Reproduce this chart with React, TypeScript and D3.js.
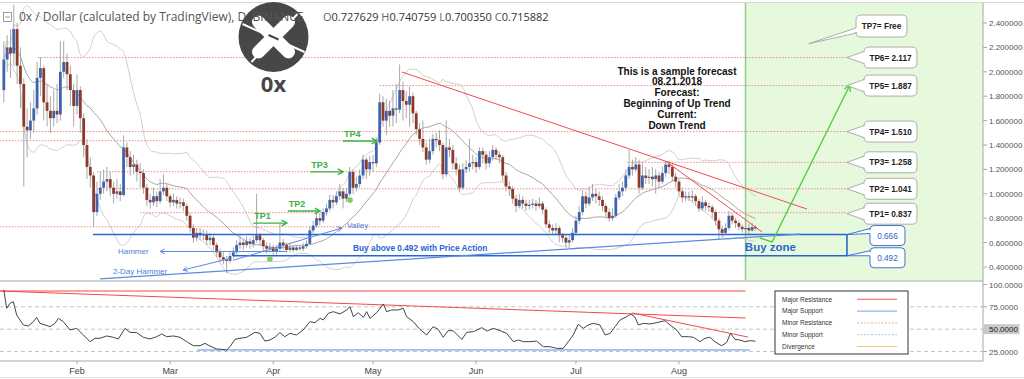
import React from "react";
import * as d3 from "d3";

// ---------------- DATA ----------------
const startDate = new Date(2018, 0, 10);
const firstOpen = 1.85;
const closes = [
  2.10, 2.20, 2.15, 2.35, 2.05, 1.90, 1.55, 1.52, 1.60, 1.70,
  1.95, 2.03, 1.75, 1.68, 1.62, 1.68, 1.65, 2.00, 2.08, 1.98,
  1.85, 1.72, 1.85, 1.62, 1.40, 1.22, 1.15, 0.85, 1.00, 1.05,
  1.10, 1.12, 1.05, 1.00, 1.02, 0.99, 1.38, 1.30, 1.22, 1.24,
  1.18, 1.17, 1.05, 0.95, 0.93, 0.98, 0.94, 1.02, 1.05, 0.98,
  0.93, 0.95, 0.92, 0.93, 0.90, 0.82, 0.72, 0.64, 0.68, 0.66,
  0.67, 0.62, 0.64, 0.58, 0.52, 0.48, 0.46, 0.45, 0.49, 0.52,
  0.58, 0.60, 0.58, 0.61, 0.59, 0.62, 0.66, 0.62, 0.57, 0.55,
  0.56, 0.53, 0.55, 0.60, 0.58, 0.54, 0.56, 0.54, 0.56, 0.55,
  0.57, 0.59, 0.70, 0.74, 0.80, 0.78, 0.85, 0.88, 0.95, 0.93,
  0.98, 1.02, 0.96, 1.00, 1.18, 1.05, 1.08, 1.15, 1.28, 1.20,
  1.26, 1.25, 1.42, 1.75, 1.60, 1.68, 1.64, 1.70, 1.69, 1.85,
  1.76, 1.73, 1.80, 1.66, 1.53, 1.45, 1.38, 1.28, 1.35, 1.45,
  1.44, 1.40, 1.16, 1.38, 1.36, 1.25, 1.20, 1.05, 1.20, 1.22,
  1.25, 1.26, 1.22, 1.35, 1.32, 1.25, 1.30, 1.36, 1.32, 1.30,
  1.15, 1.06, 1.04, 0.96, 0.90, 0.95, 0.92, 0.90, 0.91, 0.92,
  0.90, 0.92, 0.87, 0.75, 0.72, 0.70, 0.72, 0.66, 0.64, 0.60,
  0.62, 0.68, 0.78, 0.85, 0.98, 0.92, 0.97, 1.00, 0.98, 0.95,
  0.90, 0.85, 0.80, 0.82, 0.97, 1.02, 1.05, 1.15, 1.22, 1.20,
  1.24, 1.05, 1.15, 1.13, 1.14, 1.12, 1.15, 1.10, 1.17, 1.24,
  1.22, 1.14, 1.10, 1.02, 0.97, 0.98, 0.97, 0.98, 0.94, 0.88,
  0.93, 0.90, 0.89, 0.85, 0.78, 0.71, 0.68, 0.72, 0.82, 0.78,
  0.76, 0.73, 0.71, 0.72, 0.70, 0.7276, 0.7159,
];
const highs = [
  2.25, 2.30, 2.35, 2.55, 2.40, 2.20, 1.95, 1.70, 1.75, 1.85,
  2.08, 2.12, 2.05, 1.90, 1.80, 1.85, 1.90, 2.25, 2.25, 2.15,
  2.05, 1.90, 1.98, 1.88, 1.66, 1.45, 1.30, 1.18, 1.10, 1.18,
  1.20, 1.22, 1.18, 1.10, 1.12, 1.08, 1.48, 1.42, 1.35, 1.32,
  1.28, 1.25, 1.20, 1.08, 1.00, 1.05, 1.02, 1.12, 1.16, 1.08,
  1.00, 1.00, 0.98, 0.97, 0.96, 0.92, 0.84, 0.75, 0.72, 0.72,
  0.71, 0.70, 0.68, 0.66, 0.60, 0.55, 0.52, 0.49, 0.52, 0.56,
  0.62, 0.66, 0.63, 0.65, 0.64, 0.66, 1.00, 0.68, 0.64, 0.60,
  0.60, 0.58, 0.58, 0.76, 0.63, 0.60, 0.59, 0.58, 0.58, 0.58,
  0.60, 0.62, 0.73, 0.78, 0.84, 0.84, 0.88, 0.92, 0.99, 0.99,
  1.02, 1.08, 1.05, 1.05, 1.22, 1.20, 1.14, 1.20, 1.32, 1.30,
  1.31, 1.32, 1.46, 1.82, 1.80, 1.78, 1.76, 1.85, 1.90, 2.06,
  1.92, 1.84, 1.88, 1.83, 1.68, 1.58, 1.60, 1.42, 1.45, 1.49,
  1.50, 1.52, 1.42, 1.60, 1.45, 1.40, 1.30, 1.24, 1.25, 1.28,
  1.45, 1.32, 1.30, 1.38, 1.38, 1.35, 1.35, 1.40, 1.38, 1.35,
  1.32, 1.18, 1.10, 1.06, 0.99, 1.00, 0.98, 0.95, 0.95, 0.96,
  0.95, 0.97, 0.94, 0.89, 0.78, 0.75, 0.76, 0.74, 0.68, 0.66,
  0.66, 0.72, 0.82, 0.90, 1.03, 1.02, 1.06, 1.08, 1.04, 1.02,
  0.98, 0.92, 0.88, 0.88, 1.00, 1.08, 1.10, 1.20, 1.36, 1.28,
  1.30, 1.28, 1.25, 1.22, 1.20, 1.22, 1.20, 1.18, 1.22, 1.27,
  1.27, 1.24, 1.17, 1.12, 1.05, 1.02, 1.02, 1.03, 1.00, 0.96,
  0.98, 0.95, 0.93, 0.91, 0.87, 0.80, 0.74, 0.76, 0.86, 0.84,
  0.80, 0.78, 0.75, 0.76, 0.75, 0.76, 0.7408,
];
const lows = [
  1.75, 2.00, 1.95, 2.05, 1.90, 1.70, 1.06, 1.30, 1.45, 1.50,
  1.65, 1.80, 1.60, 1.55, 1.50, 1.55, 1.58, 1.60, 1.95, 1.85,
  1.72, 1.55, 1.65, 1.50, 1.30, 1.12, 1.05, 0.73, 0.82, 0.95,
  1.00, 1.02, 0.98, 0.92, 0.96, 0.94, 0.98, 1.22, 1.15, 1.16,
  1.10, 1.05, 1.00, 0.90, 0.88, 0.90, 0.89, 0.92, 0.99, 0.94,
  0.89, 0.90, 0.88, 0.88, 0.86, 0.78, 0.68, 0.60, 0.61, 0.62,
  0.62, 0.58, 0.58, 0.54, 0.48, 0.44, 0.42, 0.35, 0.43, 0.47,
  0.50, 0.55, 0.54, 0.56, 0.55, 0.56, 0.60, 0.58, 0.53, 0.51,
  0.52, 0.50, 0.50, 0.53, 0.54, 0.52, 0.52, 0.52, 0.53, 0.53,
  0.53, 0.55, 0.58, 0.68, 0.72, 0.74, 0.76, 0.82, 0.86, 0.88,
  0.91, 0.95, 0.88, 0.93, 0.98, 1.00, 1.02, 1.05, 1.12, 1.12,
  1.15, 1.18, 1.22, 1.40, 1.55, 1.48, 1.55, 1.55, 1.58, 1.66,
  1.60, 1.62, 1.55, 1.58, 1.48, 1.40, 1.34, 1.24, 1.25, 1.32,
  1.38, 1.35, 1.12, 1.14, 1.30, 1.20, 1.15, 1.02, 1.03, 1.17,
  1.18, 1.20, 1.17, 1.20, 1.25, 1.20, 1.22, 1.27, 1.28, 1.25,
  1.10, 1.02, 0.98, 0.92, 0.85, 0.88, 0.88, 0.86, 0.87, 0.88,
  0.86, 0.88, 0.83, 0.72, 0.68, 0.66, 0.66, 0.60, 0.60, 0.56,
  0.56, 0.60, 0.66, 0.75, 0.83, 0.88, 0.90, 0.94, 0.92, 0.90,
  0.86, 0.80, 0.77, 0.78, 0.80, 0.95, 0.98, 1.02, 1.12, 1.15,
  1.18, 1.00, 1.03, 1.08, 1.08, 1.06, 1.00, 1.05, 1.08, 1.14,
  1.16, 1.10, 1.05, 0.98, 0.93, 0.94, 0.94, 0.93, 0.90, 0.85,
  0.86, 0.86, 0.85, 0.80, 0.74, 0.62, 0.64, 0.66, 0.70, 0.75,
  0.72, 0.70, 0.68, 0.68, 0.67, 0.69, 0.7004,
];

// RSI: day index and value
const rsiDays = [
  0, 0.85, 1.85, 2.86, 3.86, 5.86, 7.37, 8.87, 9.87, 10.87,
  12.38, 13.88, 15.38, 16.39, 17.89, 19.89, 21.9, 23.9, 25.91, 27.41,
  28.91, 30.92, 32.92, 34.43, 36.43, 37.93, 39.94, 41.94, 43.95, 45.95,
  47.45, 48.96, 50.96, 52.97, 54.97, 56.98, 58.98, 60.48, 61.99, 63.99,
  65.49, 67.0, 68.0, 69.5, 71.0, 73.0, 75.5, 77.0, 78.5, 80.0,
  81.5, 83.0, 84.5, 86.0, 88.0, 90.0, 92.05, 93.55, 95.06, 96.06,
  97.56, 99.07, 101.07, 103.08, 104.08, 105.08, 106.58, 108.09, 109.09, 110.09,
  112.1, 114.1, 115.1, 116.6, 118.6, 120.1, 121.1, 123.1, 125.1, 127.1,
  129.1, 130.6, 132.1, 133.6, 135.1, 137.7, 139.2, 141.2, 143.7, 145.2,
  147.2, 149.2, 151.2, 153.2, 154.7, 156.2, 158.2, 160.2, 162.2, 164.2,
  166.2, 168.2, 169.7, 171.2, 172.7, 174.2, 175.7, 177.2, 179.2, 180.8,
  182.3, 183.8, 185.3, 187.3, 188.5, 189.8, 190.8, 192.3, 194.3, 196.3,
  198.8, 200.3, 202.3, 203.8, 205.8, 207.3, 209.3, 210.8, 212.3, 213.8,
  215.8, 217.3, 218.5, 219.8, 221.3, 222.8, 224.5, 226,
];
const rsiValues = [
  93.8, 73.3, 78.9, 80.8, 65.9, 54.7, 53.5, 58.4, 63.2, 56.5,
  54.7, 52.8, 56.5, 62.1, 58.4, 49.1, 50.9, 43.5, 36.0, 39.8,
  39.8, 42.4, 40.9, 39.0, 50.9, 46.5, 46.1, 40.9, 39.0, 41.6,
  44.6, 41.6, 42.4, 40.9, 36.0, 31.5, 31.5, 34.1, 31.1, 27.8,
  27.4, 26.7, 30.4, 38.6, 39.8, 40.9, 46.5, 45.3, 36.7, 37.9,
  40.9, 46.1, 41.6, 45.3, 43.5, 49.1, 58.4, 57.3, 62.1, 60.3,
  67.7, 69.6, 67.0, 71.5, 75.2, 64.0, 68.4, 63.2, 69.6, 62.1,
  68.4, 78.2, 69.6, 71.5, 71.5, 73.3, 64.0, 58.4, 49.8, 43.5,
  52.8, 49.8, 40.9, 48.3, 48.3, 38.6, 46.5, 47.2, 51.7, 47.9,
  50.9, 48.3, 45.3, 36.0, 37.9, 36.0, 36.0, 36.7, 30.4, 30.4,
  28.5, 28.5, 36.0, 43.5, 55.4, 50.9, 54.7, 56.5, 54.7, 43.5,
  45.3, 52.8, 60.3, 64.0, 67.0, 63.2, 54.7, 56.5, 55.8, 57.3,
  59.5, 54.7, 49.1, 41.6, 41.6, 40.9, 36.0, 39.8, 40.9, 36.0,
  31.5, 34.9, 45.3, 38.6, 37.9, 36.0, 37.2, 36.5,
];

const priceTicks = [2.4, 2.2, 2.0, 1.8, 1.6, 1.4, 1.2, 1.0, 0.8, 0.6, 0.4];
const rsiTicks = [100, 75, 50, 25];
const rsiGrid = [75, 50, 25];
const rsiCurrentLabel = 50;

const titleText = "0x / Dollar (calculated by TradingView), D, BINANCE";
const ohlcKeys = ["O", "H", "L", "C"];
const ohlcVals = ["0.727629", "0.740759", "0.700350", "0.715882"];
const logoText = "0x";

// TP callouts: label, tip price
const tpLabels = ["TP7= Free", "TP6= 2.117", "TP5= 1.887", "TP4= 1.510", "TP3= 1.258", "TP2= 1.041", "TP1= 0.837"];
const tpTipPrices = [2.23, 2.117, 1.887, 1.51, 1.258, 1.041, 0.837];
const buyZonePrices = [0.666, 0.492];

// minor resistance: price, start day index, end day index
const minorRes: [number, number, number][] = [
  [2.117, 10.3, 253.5], [1.887, 113, 253.5], [1.51, -1.2, 253.5], [1.435, -1.2, 131],
  [1.258, 187.4, 253.5], [1.181, 28, 140], [1.041, 28, 253.5], [0.845, 41, 98],
  [0.845, 213, 253.5], [0.73, -1.2, 131],
];
// major resistance: [i0, p0, i1, p1]
const majorRes: [number, number, number, number][] = [
  [119.7, 1.998, 241.5, 0.875],
  [199.4, 1.26, 228.0, 0.687],
];
const buyZoneStart = [26.8, 68.9];
const buyZoneEnd = 253.5;
const diagSupport: [number, number, number, number] = [28.9, 0.302, 239.4, 0.67];
// blue arrows: [i0,p0,i1,p1] arrow head at second point
const blueArrows: [number, number, number, number][] = [
  [85.1, 0.527, 47.0, 0.527],
  [68.0, 0.47, 53.9, 0.375],
  [68.9, 0.455, 101.7, 0.72],
];
const blueNotes = ["Hammer", "2-Day Hammer", "Valley", "Buy above 0.492 with Price Action"];
const blueNotePos: [number, number][] = [[34.3, 0.505], [32.8, 0.341], [103.2, 0.718], [105, 0.53]];
// green TP arrows: label, i0, i1, price
const tpArrowLabels = ["TP1", "TP2", "TP3", "TP4"];
const tpArrowStart = [75, 85.4, 92.1, 102];
const tpArrowEnd = [85.1, 95.1, 102, 112.2];
const tpArrowPrice = [0.76, 0.859, 1.18, 1.433];
const greenDots: [number, number][] = [[80.0, 0.466], [104.1, 0.949]];
const forecastPath: [number, number][] = [[227.3, 0.638], [231, 0.605], [254.4, 1.892]];
const forecastLines = ["This is a sample forecast", "08.21.2018", "Forecast:", "Beginning of Up Trend", "Current:", "Down Trend"];
const greenZoneStart = 223;

// RSI annotations
const rsiRes: [number, number, number, number][] = [
  [-1.2, 92.7, 223, 92.7],
  [-1.2, 92.7, 223, 62.5],
  [188.9, 68.1, 223.7, 41.2],
];
const rsiSup: [number, number, number, number] = [58.1, 26.7, 224.3, 26.7];

const legendItems = ["Major Resistance", "Major Support", "Minor Resistance", "Minor Support", "Divergence"];
const legendColors = ["#f45b5b", "#7aa3ea", "#f3a6a6", "#a9c3f0", "#f7c27a"];
const legendDash = ["", "", "2,1.5", "2,1.5", ""];

// ---------------- COMPONENT ----------------
const FONT = "'Liberation Sans', Arial, sans-serif";

function callout(x0: number, y0: number, w: number, h: number, r: number, tx: number, ty: number, b1: number, b2: number) {
  return `M${x0 + r},${y0} L${x0 + w - r},${y0} Q${x0 + w},${y0} ${x0 + w},${y0 + r} L${x0 + w},${y0 + h - r} Q${x0 + w},${y0 + h} ${x0 + w - r},${y0 + h} L${x0 + r},${y0 + h} Q${x0},${y0 + h} ${x0},${y0 + h - r} L${x0},${b2} L${tx},${ty} L${x0},${b1} L${x0},${y0 + r} Q${x0},${y0} ${x0 + r},${y0} Z`;
}

export default function App() {
  const x = d3.scaleTime().domain([new Date(2018, 0, 1), new Date(2018, 8, 1)]).range([-26.1, 782.1]);
  const xi = (i: number) => x(new Date(startDate.getTime() + i * 864e5));
  const y = d3.scaleLinear().domain([0.4, 2.4]).range([267, 23]);
  const yr = d3.scaleLinear().domain([25, 100]).range([351.5, 284.5]);

  const candles = closes.map((c, i) => ({
    i,
    open: i === 0 ? firstOpen : closes[i - 1],
    close: c,
    high: highs[i],
    low: lows[i],
  }));

  // Bollinger (20, 2)
  const bb = closes.map((_, i) => {
    const w = closes.slice(Math.max(0, i - 19), i + 1);
    const m = d3.mean(w) as number;
    const sd = Math.sqrt(d3.mean(w.map((v) => (v - m) * (v - m))) as number);
    return { i, m, up: m + 2 * sd, lo: m - 2 * sd };
  });
  const bbLine = (k: "m" | "up" | "lo") =>
    d3.line<any>().x((d) => xi(d.i)).y((d) => y(d[k])).curve(d3.curveMonotoneX)(bb) as string;

  const rsi = rsiDays.map((d, k) => ({ i: d, v: rsiValues[k] }));
  const rsiPath = d3.line<{ i: number; v: number }>().x((d) => xi(d.i)).y((d) => yr(d.v))(rsi) as string;

  const months = x.ticks(d3.timeMonth.every(1)).filter((d) => d.getMonth() >= 1 && d.getMonth() <= 7);
  const fmt = d3.timeFormat("%b");

  const tipX = xi(buyZoneEnd);
  const bw = 2.8;

  const arrowHead = (x1: number, y1: number, x2: number, y2: number, s: number) => {
    const a = Math.atan2(y2 - y1, x2 - x1);
    const p1 = [x2 - s * Math.cos(a - 0.5), y2 - s * Math.sin(a - 0.5)];
    const p2 = [x2 - s * Math.cos(a + 0.5), y2 - s * Math.sin(a + 0.5)];
    return `M${p1[0]},${p1[1]} L${x2},${y2} L${p2[0]},${p2[1]}`;
  };

  return (
    <svg width={1024} height={379} style={{ position: "absolute", left: 0, top: 0, background: "#fff" }} fontFamily={FONT}>
      <defs>
        <clipPath id="mainClip"><rect x={0} y={3} width={983} height={277} /></clipPath>
        <clipPath id="rsiClip"><rect x={0} y={282} width={983} height={79} /></clipPath>
      </defs>
      <rect x={0} y={0} width={1024} height={379} fill="#fff" />
      {/* green zone */}
      <rect x={xi(greenZoneStart)} y={3} width={983 - xi(greenZoneStart)} height={277} fill="#e6f9dc" />
      <line x1={xi(greenZoneStart)} x2={xi(greenZoneStart)} y1={3} y2={280} stroke="#8fcf80" strokeWidth={1.5} />

      <g clipPath="url(#mainClip)">
        {/* bollinger */}
        <path d={bbLine("up")} fill="none" stroke="#cfcfcf" strokeWidth={1} />
        <path d={bbLine("lo")} fill="none" stroke="#cfcfcf" strokeWidth={1} />
        <path d={bbLine("m")} fill="none" stroke="#a5a5a5" strokeWidth={1} />

        {/* minor resistance dotted */}
        {minorRes.map(([p, a, b], k) => (
          <line key={"mr" + k} x1={xi(a)} x2={xi(b)} y1={y(p)} y2={y(p)} stroke="#f08a8a" strokeWidth={1} strokeDasharray="1.5,1.5" />
        ))}

        {/* candles */}
        {candles.map((c) => {
          const up = c.close >= c.open;
          const cx = xi(c.i);
          const top = y(Math.max(c.open, c.close));
          const bot = y(Math.min(c.open, c.close));
          return (
            <g key={"c" + c.i}>
              <line x1={cx} x2={cx} y1={y(c.high)} y2={y(c.low)} stroke="#a8a8a8" strokeWidth={1} />
              <rect x={cx - bw / 2} y={top} width={bw} height={Math.max(1, bot - top)} fill={up ? "#3f64ad" : "#8c3a2b"} />
            </g>
          );
        })}

        {/* major resistance */}
        {majorRes.map(([a, p, b, q], k) => (
          <line key={"MR" + k} x1={xi(a)} y1={y(p)} x2={xi(b)} y2={y(q)} stroke="#f44a4a" strokeWidth={1} />
        ))}

        {/* buy zone lines */}
        {buyZonePrices.map((p, k) => (
          <line key={"bz" + k} x1={xi(buyZoneStart[k])} x2={tipX} y1={y(p)} y2={y(p)} stroke="#2a64d2" strokeWidth={1.6} />
        ))}
        <line x1={tipX} x2={tipX} y1={y(buyZonePrices[0])} y2={y(buyZonePrices[1])} stroke="#2a64d2" strokeWidth={1.6} />
        <line x1={xi(diagSupport[0])} y1={y(diagSupport[1])} x2={xi(diagSupport[2])} y2={y(diagSupport[3])} stroke="#5b8ae0" strokeWidth={1.2} />

        {/* blue arrows */}
        {blueArrows.map(([a, p, b, q], k) => {
          const x1 = xi(a), y1 = y(p), x2 = xi(b), y2 = y(q);
          return (
            <g key={"ba" + k} stroke="#5b8ae0" strokeWidth={1} fill="none">
              <line x1={x1} y1={y1} x2={x2} y2={y2} />
              <path d={arrowHead(x1, y1, x2, y2, 5)} />
            </g>
          );
        })}
        {blueNotes.map((t, k) => (
          <text key={"bn" + k} x={xi(blueNotePos[k][0])} y={y(blueNotePos[k][1])} fontSize={k === 3 ? 8.3 : 8} fontWeight={k === 3 ? "bold" : "normal"} fill={k === 3 ? "#2a64d2" : "#4a7fd8"}>{t}</text>
        ))}

        {/* green TP arrows */}
        {tpArrowLabels.map((t, k) => {
          const x1 = xi(tpArrowStart[k]), x2 = xi(tpArrowEnd[k]), yy = y(tpArrowPrice[k]);
          return (
            <g key={"ta" + k}>
              <line x1={x1} x2={x2} y1={yy} y2={yy} stroke="#3cb043" strokeWidth={1.4} />
              <path d={arrowHead(x1, yy, x2, yy, 6)} stroke="#3cb043" strokeWidth={1.4} fill="none" />
              <text x={x1 + 1} y={yy - 4} fontSize={9} fontWeight="bold" fill="#3cb043">{t}</text>
            </g>
          );
        })}
        {greenDots.map(([a, p], k) => (
          <circle key={"gd" + k} cx={xi(a)} cy={y(p)} r={2.8} fill="#7ccf5a" />
        ))}

        {/* forecast arrow */}
        {(() => {
          const pts = forecastPath.map(([a, p]) => [xi(a), y(p)] as [number, number]);
          const n = pts.length;
          return (
            <g stroke="#4fce3f" strokeWidth={1.4} fill="none">
              <path d={d3.line()(pts) as string} />
              <path d={arrowHead(pts[n - 2][0], pts[n - 2][1], pts[n - 1][0], pts[n - 1][1], 7)} />
            </g>
          );
        })()}
      </g>

      {/* Buy zone text */}
      <text x={xi(222.8)} y={y(0.531)} fontSize={11.5} fontWeight="bold" fill="#2a64d2">Buy zone</text>

      {/* forecast text */}
      <g fontSize={10} fontWeight="bold" fill="#111" textAnchor="middle">
        {forecastLines.map((t, k) => (
          <text key={"fl" + k} x={677} y={74.5 + k * 10.8}>{t}</text>
        ))}
      </g>

      {/* TP callouts */}
      {tpLabels.map((t, k) => {
        const ty = y(tpTipPrices[k]);
        if (k === 0) {
          const bx = 856, by = 15, w = 51, h = 22;
          return (
            <g key={"tp" + k}>
              <path d={callout(bx, by, w, h, 5, xi(242), ty, by + h - 9, by + h - 4)} fill="#fff" stroke="#9a9a9a" strokeWidth={0.8} />
              <text x={bx + w / 2} y={by + h / 2 + 3} fontSize={8.2} fontWeight="bold" fill="#222" textAnchor="middle">{t}</text>
            </g>
          );
        }
        const bx = tipX + 17, w = 53, h = 21;
        const by = ty - h / 2;
        return (
          <g key={"tp" + k}>
            <path d={callout(bx, by, w, h, 5, tipX, ty, ty - 6, ty + 6)} fill="#fff" stroke="#9a9a9a" strokeWidth={0.8} />
            <text x={bx + w / 2} y={ty + 3} fontSize={8.2} fontWeight="bold" fill="#222" textAnchor="middle">{t}</text>
          </g>
        );
      })}
      {buyZonePrices.map((p, k) => {
        const ty = y(p);
        const bx = tipX + 23, w = 35, h = 20;
        const by = ty - 9 + k * 1;
        return (
          <g key={"bzl" + k}>
            <path d={callout(bx, by, w, h, 4, tipX, ty, by + 3, by + 8)} fill="#fff" stroke="#2a64d2" strokeWidth={0.9} />
            <text x={bx + w / 2} y={by + h / 2 + 3} fontSize={8.2} fill="#2a64d2" textAnchor="middle">{p.toFixed(3)}</text>
          </g>
        );
      })}

      {/* frame & separators */}
      <line x1={0} x2={1024} y1={2.5} y2={2.5} stroke="#d8d8d8" />
      <rect x={0} y={280} width={983} height={2} fill="#d0d0d0" />
      <line x1={983} x2={983} y1={3} y2={361} stroke="#a8a8a8" />
      <line x1={0} x2={983} y1={361} y2={361} stroke="#a8a8a8" />
      <line x1={0} x2={1024} y1={377.5} y2={377.5} stroke="#e0e0e0" />

      {/* price axis */}
      {priceTicks.map((p) => (
        <g key={"pt" + p}>
          <line x1={983} x2={987} y1={y(p)} y2={y(p)} stroke="#a8a8a8" />
          <text x={989} y={y(p) + 3} fontSize={8} fill="#555">{p.toFixed(6)}</text>
        </g>
      ))}

      {/* RSI pane */}
      {rsiGrid.map((v) => (
        <line key={"rg" + v} x1={0} x2={983} y1={yr(v)} y2={yr(v)} stroke="#c4c4c4" strokeDasharray="4,3" />
      ))}
      <g clipPath="url(#rsiClip)">
        {rsiRes.map(([a, p, b, q], k) => (
          <line key={"rr" + k} x1={xi(a)} y1={yr(p)} x2={xi(b)} y2={yr(q)} stroke="#f44a4a" strokeWidth={1} />
        ))}
        <line x1={xi(rsiSup[0])} y1={yr(rsiSup[1])} x2={xi(rsiSup[2])} y2={yr(rsiSup[3])} stroke="#5b8ae0" strokeWidth={1} />
        <path d={rsiPath} fill="none" stroke="#444" strokeWidth={1} />
      </g>
      {rsiTicks.map((v) => (
        <g key={"rt" + v}>
          <line x1={983} x2={987} y1={yr(v)} y2={yr(v)} stroke="#a8a8a8" />
          {v === rsiCurrentLabel && <rect x={983.5} y={yr(v) - 5} width={36} height={10} fill="#c9c9c9" />}
          <text x={989} y={yr(v) + 3} fontSize={8} fill={v === rsiCurrentLabel ? "#222" : "#555"}>{v.toFixed(4)}</text>
        </g>
      ))}

      {/* legend */}
      <rect x={775} y={291} width={133} height={63} fill="#fff" stroke="#333" strokeWidth={1} />
      {legendItems.map((t, k) => {
        const yy = 299.3 + k * 11.8;
        return (
          <g key={"lg" + k}>
            <text x={782} y={yy + 2.2} fontSize={6.5} fill="#333">{t}</text>
            <line x1={857} x2={897} y1={yy} y2={yy} stroke={legendColors[k]} strokeWidth={1} strokeDasharray={legendDash[k]} />
          </g>
        );
      })}

      {/* time axis */}
      {months.map((d) => (
        <g key={"m" + d.getMonth()}>
          <line x1={x(d)} x2={x(d)} y1={361} y2={364} stroke="#a8a8a8" />
          <text x={x(d)} y={374} fontSize={9} fill="#444" textAnchor="middle">{fmt(d)}</text>
        </g>
      ))}

      {/* logo */}
      <g transform="translate(273.5,37)">
        <circle r={35} fill="#474747" />
        <line x1={-31} y1={-13} x2={31} y2={15} stroke="#fff" strokeWidth={2} />
        <line x1={-22} y1={25} x2={24} y2={-23} stroke="#fff" strokeWidth={2} />
        <line x1={-15} y1={-15} x2={15} y2={15} stroke="#fff" strokeWidth={13} strokeLinecap="round" />
        <line x1={15} y1={-15} x2={-15} y2={15} stroke="#fff" strokeWidth={13} strokeLinecap="round" />
        <line x1={-5} y1={-2} x2={5} y2={2.5} stroke="#474747" strokeWidth={2} />
      </g>
      <text x={273.5} y={92} fontSize={22} fontWeight="bold" fill="#474747" textAnchor="middle" fontFamily="'Open Sans', sans-serif">{logoText}</text>

      {/* title */}
      <rect x={3.5} y={12.5} width={8} height={9} fill="none" stroke="#888" strokeWidth={0.8} />
      <line x1={5} x2={10} y1={17} y2={17} stroke="#888" strokeWidth={0.8} />
      <text x={19} y={21} fontSize={12} fill="#555" fontFamily="'Open Sans', sans-serif">{titleText}</text>

      <text x={323} y={21} fontSize={11} fontFamily="'Open Sans', sans-serif">
        {ohlcKeys.map((k, j) => (
          <tspan key={k}>
            <tspan fill="#666">{(j > 0 ? " " : "") + k}</tspan>
            <tspan fill="#333">{ohlcVals[j]}</tspan>
          </tspan>
        ))}
      </text>
    </svg>
  );
}
